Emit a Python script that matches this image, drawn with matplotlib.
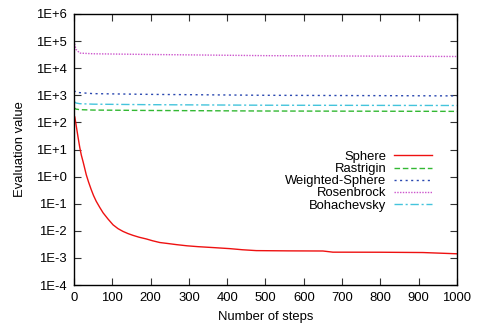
import numpy as np
import matplotlib
matplotlib.use("Agg")
import matplotlib.pyplot as plt
from matplotlib.ticker import FixedLocator, FixedFormatter

plt.rcParams['font.family'] = ['Liberation Sans', 'DejaVu Sans']

# values
sphere_x = [0, 2, 5, 8, 11, 15, 19, 24, 28, 32, 38, 45, 51, 58, 67, 76, 89, 102, 115, 128,
            141, 154, 170, 189, 205, 224, 245, 267, 295, 324, 365, 407, 440, 476, 560, 650,
            676, 800, 911, 1000]
sphere_y = [180, 160, 89, 48, 26, 12, 6.3, 3.4, 2.0, 1.17, 0.63, 0.33, 0.2, 0.123, 0.074,
            0.046, 0.027, 0.0166, 0.012, 0.0095, 0.0079, 0.0068, 0.0058, 0.005, 0.0043,
            0.0037, 0.0034, 0.0031, 0.0028, 0.0026, 0.0024, 0.0022, 0.0020, 0.00186,
            0.00182, 0.0018, 0.00163, 0.00162, 0.00158, 0.00142]

other_x = [0, 5, 15, 50, 200, 500, 1000]
rastrigin_y = [350, 310, 295, 285, 275, 263, 255]
weighted_y = [1500, 1300, 1250, 1150, 1080, 1000, 950]
rosen_y = [100000, 50000, 36000, 34000, 32000, 29000, 27000]
bohach_y = [600, 520, 490, 470, 450, 430, 420]

yticks = [1e-4, 1e-3, 1e-2, 1e-1, 1e0, 1e1, 1e2, 1e3, 1e4, 1e5, 1e6]
ylabels = ['1E-4', '1E-3', '1E-2', '1E-1', '1E+0', '1E+1', '1E+2', '1E+3', '1E+4', '1E+5', '1E+6']
xticks = [0, 100, 200, 300, 400, 500, 600, 700, 800, 900, 1000]

fs = 9.4

fig = plt.figure(figsize=(4.79, 3.25), dpi=100)
ax = fig.add_axes([0.1545, 0.123, 0.7995, 0.834])

ax.plot(sphere_x, sphere_y, color='#ee1111', lw=1.0, label='Sphere')
ax.plot(other_x, rastrigin_y, color='#33b833', lw=1.0, dashes=(4, 2), label='Rastrigin')
ax.plot(other_x, weighted_y, color='#2a48b0', lw=1.0, dashes=(1.5, 2.5), label='Weighted-Sphere')
ax.plot(other_x, rosen_y, color='#cc55cc', lw=1.0, dashes=(1, 1), label='Rosenbrock')
ax.plot(other_x, bohach_y, color='#44c4dc', lw=1.0, dashes=(6, 2, 1.5, 2), label='Bohachevsky')

ax.set_yscale('log')
ax.set_xlim(0, 1000)
ax.set_ylim(1e-4, 1e6)
ax.yaxis.set_major_locator(FixedLocator(yticks))
ax.yaxis.set_major_formatter(FixedFormatter(ylabels))
ax.yaxis.set_minor_locator(FixedLocator([]))
ax.set_xticks(xticks)
ax.tick_params(direction='in', top=True, right=True, length=5, width=0.8,
               labelsize=fs, pad=5, color='#333333')
for s in ax.spines.values():
    s.set_linewidth(1.0)

ax.set_xlabel('Number of steps', fontsize=fs, labelpad=5)
ax.set_ylabel('Evaluation value', fontsize=fs, labelpad=7)

ax.legend(loc='upper right', bbox_to_anchor=(0.935, 0.495), frameon=False,
          markerfirst=False, fontsize=fs, handlelength=2.9, labelspacing=0.0,
          borderpad=0, borderaxespad=0, handletextpad=0.6)

fig.savefig('out.png', dpi=100)
